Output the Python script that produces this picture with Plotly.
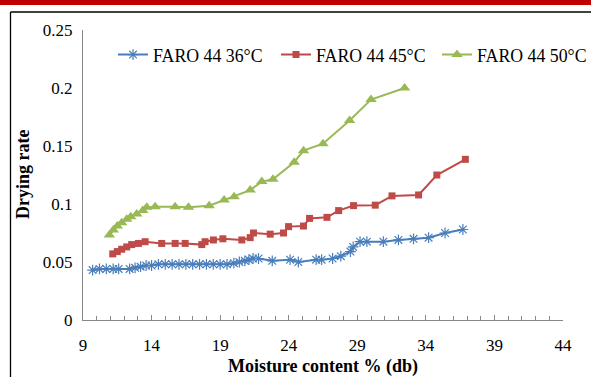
import plotly.graph_objects as go

# ---- data ----
x36 = [9.7, 10.2, 10.7, 11.2, 11.6, 12.4, 12.8, 13.2, 13.6, 14.0, 14.5, 15.0, 15.5, 16.0, 16.5,
       17.0, 17.5, 18.0, 18.5, 19.0, 19.5, 20.0, 20.4, 20.8, 21.1, 21.4, 21.8, 22.8, 24.1, 24.7,
       26.0, 26.4, 27.2, 27.8, 28.5, 28.7, 29.2, 29.7, 30.9, 32.0, 33.1, 34.2, 35.4, 36.7]
y36 = [0.043, 0.044, 0.044, 0.044, 0.044, 0.044, 0.045, 0.046, 0.047, 0.047, 0.048, 0.048, 0.048, 0.048, 0.048,
       0.048, 0.048, 0.048, 0.048, 0.048, 0.048, 0.049, 0.050, 0.051, 0.052, 0.053, 0.053, 0.051, 0.052, 0.050,
       0.052, 0.052, 0.053, 0.055, 0.059, 0.063, 0.0675, 0.0675, 0.0675, 0.069, 0.070, 0.071, 0.075, 0.078]

x45 = [11.17, 11.5, 11.82, 12.19, 12.55, 13.04, 13.53, 14.74, 15.72, 16.45, 17.66, 17.9, 18.51, 19.2,
       20.58, 21.19, 21.43, 22.65, 23.62, 23.99, 25.08, 25.52, 26.79, 27.64, 28.73, 30.31, 31.53, 33.47,
       34.8, 36.88]
y45 = [0.057, 0.059, 0.061, 0.063, 0.065, 0.066, 0.0675, 0.066, 0.066, 0.066, 0.065, 0.0675, 0.069, 0.070,
       0.069, 0.071, 0.075, 0.074, 0.075, 0.0805, 0.081, 0.0876, 0.0885, 0.0943, 0.0986, 0.099, 0.107, 0.1078,
       0.125, 0.1385]

x50 = [10.92, 11.21, 11.5, 11.82, 12.19, 12.48, 12.92, 13.36, 13.65, 14.26, 15.72, 16.69, 18.2, 19.29,
       20.02, 21.19, 22.04, 22.85, 24.4, 25.08, 26.5, 28.44, 30.0, 32.45]
y50 = [0.0733, 0.0776, 0.081, 0.0839, 0.0868, 0.0891, 0.0914, 0.0943, 0.0971, 0.0977, 0.0977, 0.0971,
       0.0985, 0.1034, 0.1063, 0.112, 0.1193, 0.1213, 0.136, 0.146, 0.152, 0.172, 0.19, 0.2]

names = ["FARO 44 36°C", "FARO 44 45°C", "FARO 44 50°C"]
ytickvals = [0, 0.05, 0.1, 0.15, 0.2, 0.25]
yticktext = ["0", "0.05", "0.1", "0.15", "0.2", "0.25"]
xtickvals = [9, 14, 19, 24, 29, 34, 39, 44]

W, H = 591, 377
L, R, T, B = 83, 563, 30, 320


def px(xp):
    return (xp - L) / (R - L)


def py(yp):
    return (B - yp) / (B - T)


FONT = "Liberation Serif"
LEGFONT = dict(family=FONT, size=17.8, color="black")

fig = go.Figure()
fig.add_trace(go.Scatter(x=x36, y=y36, name=names[0], mode="lines+markers", legend="legend",
                         line=dict(color="#4A7EBB", width=2),
                         marker=dict(symbol="asterisk-open", size=9, color="#4A7EBB",
                                     line=dict(color="#4A7EBB", width=1.2))))
fig.add_trace(go.Scatter(x=x45, y=y45, name=names[1], mode="lines+markers", legend="legend2",
                         line=dict(color="#BE4B48", width=2),
                         marker=dict(symbol="square", size=7, color="#BE4B48")))
fig.add_trace(go.Scatter(x=x50, y=y50, name=names[2], mode="lines+markers", legend="legend3",
                         line=dict(color="#98B954", width=2),
                         marker=dict(symbol="triangle-up", size=10, color="#98B954")))


def leg(xp):
    return dict(orientation="h", x=px(xp), y=py(55), xanchor="left", yanchor="middle",
                font=LEGFONT, bgcolor="rgba(0,0,0,0)", itemwidth=30)


fig.update_layout(
    width=W, height=H,
    margin=dict(l=L, r=W - R, t=T, b=H - B, pad=0, autoexpand=False),
    paper_bgcolor="white", plot_bgcolor="white",
    font=dict(family=FONT, size=17, color="black"),
    showlegend=True,
    legend=leg(113), legend2=leg(276), legend3=leg(437),
    xaxis=dict(range=[9, 44], tickvals=xtickvals, showgrid=False, zeroline=False, automargin=False,
               showline=True, linecolor="#888888", linewidth=1,
               ticks="inside", ticklen=5, tickcolor="#888888",
               minor=dict(dtick=1, tick0=9, ticks="inside", ticklen=4, tickcolor="#888888"),
               tickfont=dict(family=FONT, size=17), ticklabelstandoff=10,
               title=dict(text="<b>Moisture content % (db)</b>", font=dict(family=FONT, size=18), standoff=5)),
    yaxis=dict(range=[0, 0.25], tickvals=ytickvals, ticktext=yticktext, showgrid=False, zeroline=False,
               automargin=False,
               showline=True, linecolor="#888888", linewidth=1, ticks="",
               tickfont=dict(family=FONT, size=17), ticklabelstandoff=6),
    annotations=[
        dict(text="<b>Drying rate</b>", xref="paper", yref="paper", x=px(23), y=py(175),
             xanchor="center", yanchor="middle", textangle=-90, showarrow=False,
             font=dict(family=FONT, size=18, color="black")),
    ],
    shapes=[
        dict(type="rect", xref="paper", yref="paper", x0=px(-5), x1=px(600), y0=py(5), y1=py(0),
             fillcolor="#C00000", line=dict(width=0), layer="above"),
        dict(type="line", xref="paper", yref="paper", x0=px(10.5), x1=px(10.5), y0=py(12), y1=py(380),
             line=dict(color="black", width=1.3)),
        dict(type="line", xref="paper", yref="paper", x0=px(10.5), x1=px(600), y0=py(12), y1=py(12),
             line=dict(color="black", width=1.3)),
    ],
)

fig.write_html("out.html")
